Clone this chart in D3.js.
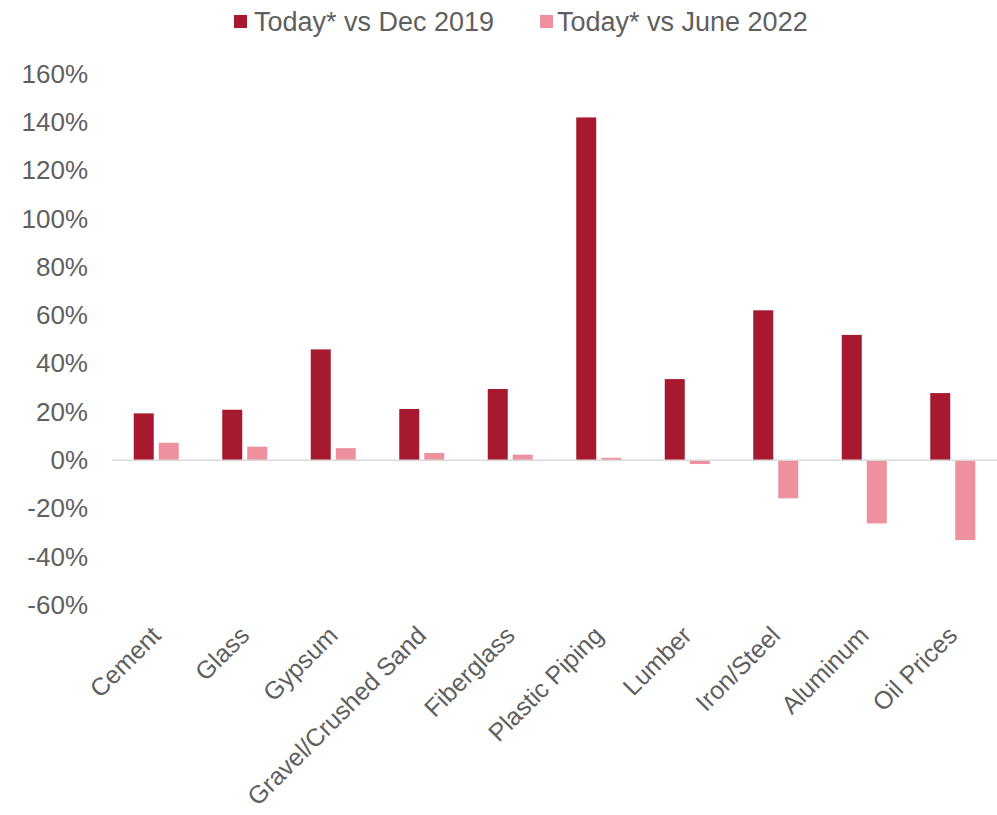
<!DOCTYPE html>
<html>
<head>
<meta charset="utf-8">
<script src="https://cdn.jsdelivr.net/npm/d3@7"></script>
<style>
  html, body { margin: 0; padding: 0; background: #fff; }
  svg { display: block; font-family: "Liberation Sans", Arial, sans-serif; }
</style>
</head>
<body>
<svg id="chart" width="997" height="815"></svg>
<script>
// Material price changes, in percent
const categories = ["Cement", "Glass", "Gypsum", "Gravel/Crushed Sand", "Fiberglass",
                    "Plastic Piping", "Lumber", "Iron/Steel", "Aluminum", "Oil Prices"];
const seriesNames = ["Today* vs Dec 2019", "Today* vs June 2022"];
const vsDec2019 = [19.4, 20.9, 45.9, 21.2, 29.5, 142.0, 33.6, 62.1, 51.9, 27.8];
const vsJune2022 = [7.2, 5.6, 5.0, 3.0, 2.3, 1.0, -1.6, -15.8, -26.2, -33.1];
const yTicks = [-60, -40, -20, 0, 20, 40, 60, 80, 100, 120, 140, 160];

const colors = ["#A6192E", "#EE909D"];
const textColor = "#5f5f5f";

const svg = d3.select("#chart");
const margin = { left: 112, right: 0 };
const width = 997;

const x = d3.scaleBand().domain(categories).range([margin.left, width - margin.right]).padding(0);
const y = d3.scaleLinear().domain([-60, 160]).range([605, 74]);

const barW = 20, gap = 5;

// y axis labels (no axis line)
const yAxis = svg.append("g")
  .attr("transform", `translate(${margin.left},0)`)
  .call(d3.axisLeft(y).tickValues(yTicks).tickSize(0).tickPadding(24).tickFormat(d => d + "%"));
yAxis.select(".domain").remove();
yAxis.selectAll("text")
  .attr("fill", textColor)
  .style("font-size", "26px")
  .style("font-family", "'Liberation Sans', Arial, sans-serif");

// bars
const series = [vsDec2019, vsJune2022];
series.forEach((vals, si) => {
  svg.append("g").selectAll("rect")
    .data(categories.map((c, i) => ({ c, v: vals[i] })))
    .join("rect")
    .attr("x", d => x(d.c) + x.bandwidth() / 2 + (si === 0 ? -barW - gap / 2 : gap / 2))
    .attr("width", barW)
    .attr("y", d => y(Math.max(0, d.v)))
    .attr("height", d => Math.abs(y(d.v) - y(0)))
    .attr("fill", colors[si]);
});

// zero line
svg.append("line")
  .attr("x1", margin.left).attr("x2", width)
  .attr("y1", y(0)).attr("y2", y(0))
  .attr("stroke", "#d9d9d9").attr("stroke-width", 1.5);

// category labels, rotated
const xAxis = svg.append("g")
  .attr("transform", `translate(0,${y(-60)})`)
  .call(d3.axisBottom(x).tickSize(0).tickPadding(0));
xAxis.select(".domain").remove();
xAxis.selectAll("text")
  .attr("fill", textColor)
  .style("font-size", "25px")
  .style("font-family", "'Liberation Sans', Arial, sans-serif")
  .attr("text-anchor", "end")
  .attr("dy", "0")
  .attr("transform", "translate(6,32) rotate(-45)");

// legend
const legendItems = [{ sx: 234, tx: 254 }, { sx: 540, tx: 557 }];
seriesNames.forEach((name, i) => {
  svg.append("rect")
    .attr("x", legendItems[i].sx).attr("y", 15)
    .attr("width", 13).attr("height", 13)
    .attr("fill", colors[i]);
  svg.append("text")
    .attr("x", legendItems[i].tx).attr("y", 31)
    .attr("fill", textColor)
    .style("font-size", "27px")
    .text(name);
});
</script>
</body>
</html>
